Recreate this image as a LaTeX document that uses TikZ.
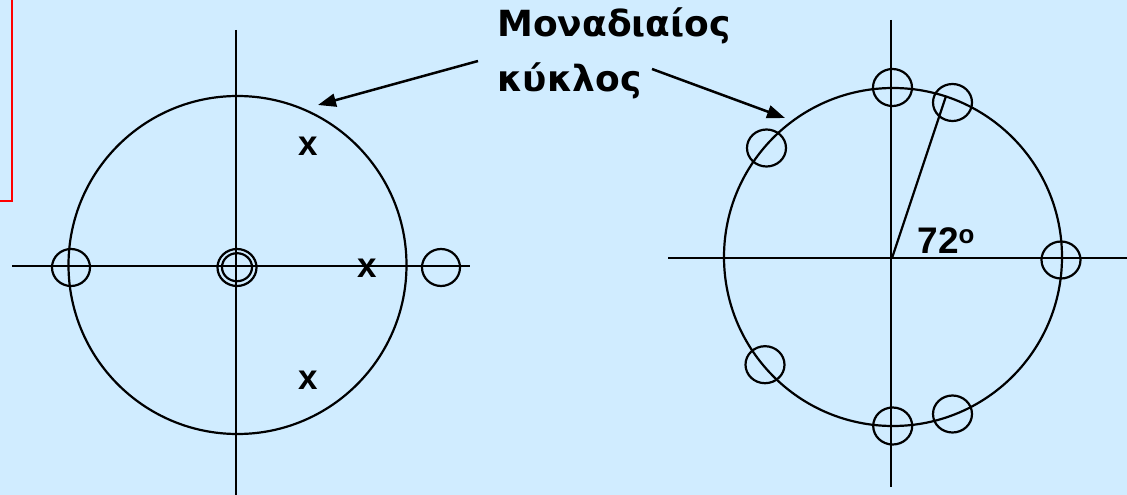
\documentclass[tikz,border=0pt]{standalone}
\usepackage{fontspec}
\setmainfont{Liberation Sans}
\newfontfamily\greekfont{DejaVu Sans}
\usetikzlibrary{arrows.meta}
\definecolor{bg}{RGB}{208,236,255}
\begin{document}
\begin{tikzpicture}[x=1pt,y=-1pt,
  axis/.style={line width=2.5pt},
  ring/.style={line width=2.2pt},
  pole/.style={line width=2.2pt},
  zeromark/.style={font=\fontsize{35}{35}\selectfont\bfseries},
  greek/.style={font=\greekfont\fontsize{36}{36}\selectfont\bfseries,anchor=base west,inner sep=0pt},
  ptr/.style={line width=2.5pt,-{Triangle[length=18pt,width=13pt]}}]
\fill[bg] (0,0) rectangle (1127,495);
\useasboundingbox (0,0) rectangle (1127,495);
% red box edge
\draw[red,line width=2.5pt] (12,0) -- (12,201) -- (0,201);
% left diagram
\draw[axis] (12,266) -- (470,266);
\draw[axis] (236,30) -- (236,495);
\draw[ring] (237.5,265) circle (169);
\draw[pole] (71,267.5) ellipse (19 and 18.5);
\draw[pole] (441,267.5) ellipse (19 and 18.5);
\draw[pole] (237,267.5) ellipse (19.5 and 18.5);
\draw[pole] (237,267.2) ellipse (15 and 14);
\node[zeromark] (x1) at (308,146) {x};
\node[zeromark] (x2) at (367,268) {x};
\node[zeromark] (x3) at (308,380) {x};
% right diagram
\draw[axis] (668,258) -- (1127,258);
\draw[axis] (891,20) -- (891,487);
\draw[ring] (893,257) circle (169);
\draw[pole] (892,258) -- (946,96);
\foreach \px/\py in {892.5/87.5, 952.5/102.5, 1061/260, 766.5/148, 765/364.7, 892.7/426, 952.5/414}
  \draw[pole] (\px,\py) ellipse (19.5 and 18.5);
\node[font=\fontsize{37}{37}\selectfont\bfseries,anchor=base west] (ang) at (914,253) {72\textsuperscript{o}};
% label
\node[greek] (t1) at (497,37) {Μοναδιαίος};
\node[greek] (t2) at (497,92) {κύκλος};
\coordinate (s1) at (478,61);
\coordinate (e1) at (318,105);
\coordinate (s2) at (652,69);
\coordinate (e2) at (785,118);
\draw[ptr] (s1) -- (e1);
\draw[ptr] (s2) -- (e2);
\end{tikzpicture}
\end{document}
